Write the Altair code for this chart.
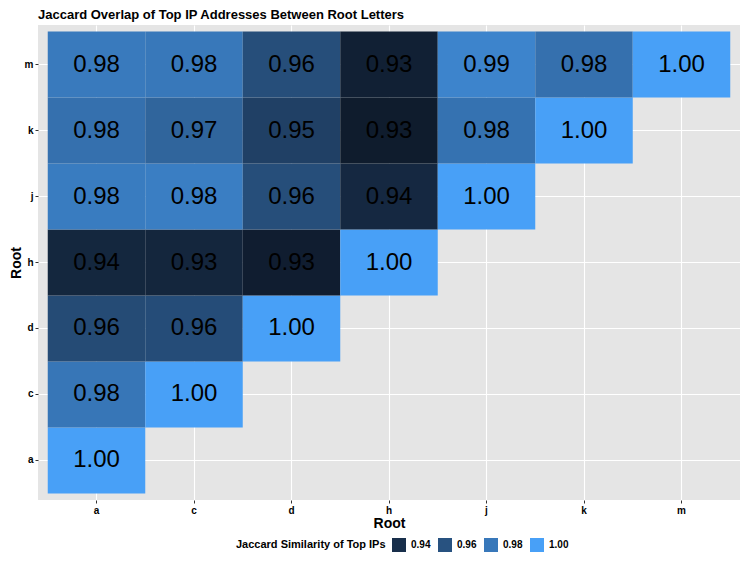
import altair as alt
import pandas as pd

# Root letters (column order on x, reversed on y)
roots = ["a", "c", "d", "h", "j", "k", "m"]

# Jaccard similarity per row (y root), listed against x roots a, c, d, ...
row_a = [1.000]
row_c = [0.979, 1.000]
row_d = [0.956, 0.957, 1.000]
row_h = [0.9351, 0.9345, 0.929, 1.000]
row_j = [0.982, 0.983, 0.958, 0.936, 1.000]
row_k = [0.976, 0.970, 0.950, 0.928, 0.977, 1.000]
row_m = [0.981, 0.980, 0.958, 0.931, 0.986, 0.976, 1.000]

legend_values = [0.94, 0.96, 0.98, 1.00]

rows = {"a": row_a, "c": row_c, "d": row_d, "h": row_h, "j": row_j, "k": row_k, "m": row_m}
records = []
for r, vals in rows.items():
    for c, v in zip(roots, vals):
        records.append({"col": c, "row": r, "value": v})
df = pd.DataFrame(records)

FONT = "Liberation Sans"

xscale = alt.Scale(paddingInner=0, paddingOuter=0.1)
yscale = alt.Scale(paddingInner=0, paddingOuter=0.1)

base = alt.Chart(df).encode(
    x=alt.X("col:N", sort=roots, title="Root", scale=xscale,
            axis=alt.Axis(labelAngle=0, bandPosition=0.5, titlePadding=1, zindex=0)),
    y=alt.Y("row:N", sort=roots[::-1], title="Root", scale=yscale,
            axis=alt.Axis(bandPosition=0.5, titlePadding=1, zindex=0)),
)

rect = base.mark_rect().encode(
    color=alt.Color(
        "value:Q",
        scale=alt.Scale(domain=[0.927, 1.0], range=["#0e1a2b", "#48a0f7"], interpolate="lab"),
        legend=alt.Legend(
            title="Jaccard Similarity of Top IPs",
            type="symbol",
            values=legend_values,
            format=".2f",
            orient="none",
            legendX=198,
            legendY=513,
            direction="horizontal",
            titleOrient="left",
            titleAnchor="middle",
            titleBaseline="middle",
            titlePadding=6,
            titleFontSize=11,
            titleFontWeight="bold",
            titleFont=FONT,
            titleColor="black",
            titleLimit=400,
            symbolType="square",
            symbolSize=196,
            symbolStrokeWidth=0,
            symbolOpacity=1,
            labelFontSize=10,
            labelFontWeight="bold",
            labelFont=FONT,
            labelColor="black",
            labelOffset=5,
            columnPadding=7,
        ),
    )
)

text = base.mark_text(fontSize=24, font=FONT, color="black").encode(
    text=alt.Text("value:Q", format=".2f")
)

chart = (
    alt.layer(rect, text)
    .properties(
        width=702,
        height=475,
        title=alt.Title(
            "Jaccard Overlap of Top IP Addresses Between Root Letters",
            anchor="start",
            frame="group",
            font=FONT,
            fontSize=13,
            fontWeight="bold",
            color="black",
            offset=3,
        ),
        autosize=alt.AutoSizeParams(type="none"),
        padding={"left": 30, "top": 17, "right": 0, "bottom": 52},
    )
    .configure_view(fill="#E5E5E5", strokeWidth=0)
    .configure_axis(
        grid=True,
        gridColor="white",
        gridWidth=1.1,
        domain=False,
        tickColor="#333333",
        tickSize=3,
        tickWidth=1,
        labelFont=FONT,
        labelFontSize=10,
        labelFontWeight="bold",
        labelColor="black",
        labelPadding=2,
        titleFont=FONT,
        titleFontSize=14,
        titleFontWeight="bold",
        titleColor="black",
        zindex=0,
    )
)

chart.save("out.html", embed_options={"renderer": "svg", "actions": False})
